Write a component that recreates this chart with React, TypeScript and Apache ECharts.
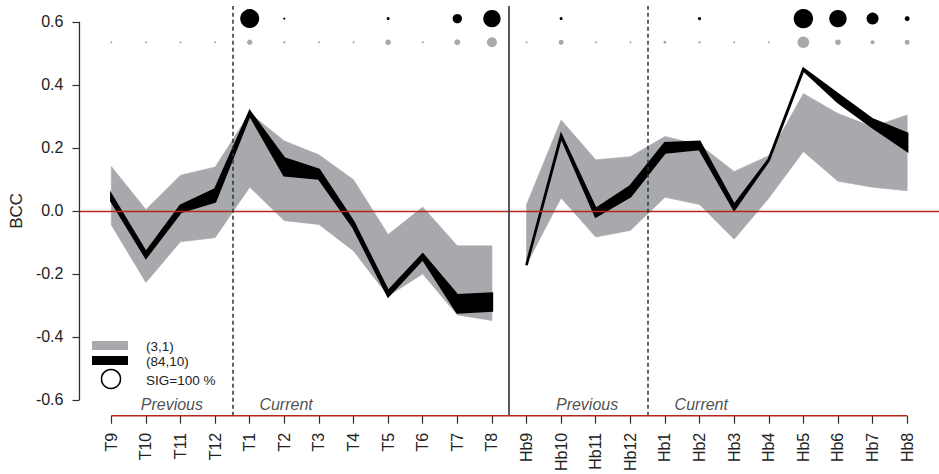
import React, { useEffect, useRef } from 'react';
import * as echarts from 'echarts';

const categories = ['T9', 'T10', 'T11', 'T12', 'T1', 'T2', 'T3', 'T4', 'T5', 'T6', 'T7', 'T8',
  'Hb9', 'Hb10', 'Hb11', 'Hb12', 'Hb1', 'Hb2', 'Hb3', 'Hb4', 'Hb5', 'Hb6', 'Hb7', 'Hb8'];
// two separate panels of the series (Previous/Current for T and Hb)
const segments = [[0, 11], [12, 23]];

// (3,1) band
const grayUpper = [0.141, 0.004, 0.113, 0.139, 0.31, 0.222, 0.178, 0.099, -0.075, 0.012, -0.111, -0.111,
  0.02, 0.288, 0.162, 0.172, 0.236, 0.21, 0.125, 0.175, 0.372, 0.309, 0.267, 0.304];
const grayLower = [-0.045, -0.227, -0.098, -0.085, 0.075, -0.031, -0.043, -0.127, -0.27, -0.2, -0.33, -0.348,
  -0.17, 0.041, -0.083, -0.062, 0.043, 0.02, -0.09, 0.04, 0.188, 0.094, 0.075, 0.064];

// (84,10) band
const blackUpper = [0.05, -0.132, 0.016, 0.068, 0.315, 0.166, 0.13, -0.036, -0.255, -0.138, -0.268, -0.262,
  -0.17, 0.24, 0.006, 0.078, 0.215, 0.219, 0.018, 0.163, 0.451, 0.37, 0.29, 0.245];
const blackLower = [0.032, -0.148, -0.004, 0.03, 0.305, 0.113, 0.103, -0.053, -0.27, -0.152, -0.322, -0.316,
  -0.172, 0.235, -0.018, 0.046, 0.185, 0.196, 0.004, 0.16, 0.447, 0.345, 0.265, 0.191];

// significance (%) shown as circles above the curves
const sigBlack = [0, 0, 0, 0, 95, 10, 0, 0, 15, 0, 47, 87, 0, 15, 0, 0, 0, 16, 0, 0, 97, 87, 60, 25];
const sigGray = [10, 10, 10, 10, 27, 12, 10, 10, 28, 10, 30, 50, 10, 25, 10, 10, 15, 12, 10, 10, 58, 28, 20, 25];
const sigRowLevels = [0.61, 0.535];

const yTicks = [-0.6, -0.4, -0.2, 0, 0.2, 0.4, 0.6];
const dashedDividers = [3.5, 15.5];
const solidDividers = [11.5];
const sectionNames = ['Previous', 'Current', 'Previous', 'Current'];
const sectionAt = [1.75, 5.05, 13.75, 17.05];
const legendNames = ['(3,1)', '(84,10)', 'SIG=100 %'];

const X_MIN = -0.92;
const X_MAX = 23.92;
const Y_MIN = -0.65;
const Y_MAX = 0.65;
const FONT = '"Liberation Sans", Arial, Helvetica, sans-serif';
const GRAY = '#a7a9ac';
const RED = '#b3291c';
const DARK = '#26343a';

function bandSeries(upper: number[], lower: number[], color: string, strokeW: number, z: number) {
  return {
    type: 'custom',
    coordinateSystem: 'cartesian2d',
    z,
    silent: true,
    clip: false,
    data: segments.map((s) => [s[0], 0]),
    renderItem: (params: any, api: any) => {
      const [s, e] = segments[params.dataIndex];
      const pts: number[][] = [];
      for (let i = s; i <= e; i++) pts.push(api.coord([i, upper[i]]));
      for (let i = e; i >= s; i--) pts.push(api.coord([i, lower[i]]));
      return {
        type: 'polygon',
        shape: { points: pts },
        style: {
          fill: color,
          stroke: strokeW > 0 ? color : null,
          lineWidth: strokeW,
          lineJoin: 'miter',
        },
      };
    },
  };
}

export default function App() {
  const ref = useRef<HTMLDivElement>(null);

  useEffect(() => {
    if (!ref.current) return;
    const chart = echarts.init(ref.current, null, { renderer: 'svg' });
    const idx = categories.map((_, i) => i);

    const option: any = {
      animation: false,
      backgroundColor: '#ffffff',
      textStyle: { fontFamily: FONT },
      grid: { left: 77, top: 6, width: 888, height: 412, containLabel: false },
      xAxis: {
        type: 'value',
        min: X_MIN,
        max: X_MAX,
        splitLine: { show: false },
        axisLine: { show: false, onZero: false },
        axisTick: { show: true, customValues: idx, length: 8, lineStyle: { color: DARK, width: 1.2 } },
        axisLabel: {
          show: true,
          customValues: idx,
          formatter: (v: number) => categories[Math.round(v)] ?? '',
          rotate: 90,
          margin: 17,
          fontSize: 16,
          color: '#222',
          fontFamily: FONT,
        },
      },
      yAxis: {
        type: 'value',
        min: Y_MIN,
        max: Y_MAX,
        name: 'BCC',
        nameLocation: 'middle',
        nameGap: 52,
        nameRotate: 90,
        nameTextStyle: { fontSize: 17, color: '#222', fontFamily: FONT },
        splitLine: { show: false },
        axisLine: { show: false, onZero: false },
        axisTick: { show: true, customValues: yTicks, length: 7, lineStyle: { color: DARK, width: 1.2 } },
        axisLabel: {
          show: true,
          customValues: yTicks,
          formatter: (v: number) => v.toFixed(1),
          margin: 16,
          fontSize: 16,
          color: '#222',
          fontFamily: FONT,
        },
      },
      series: [
        bandSeries(grayUpper, grayLower, GRAY, 0.6, 1),
        {
          type: 'line',
          data: [],
          z: 2,
          silent: true,
          markLine: {
            silent: true,
            symbol: 'none',
            label: { show: false },
            data: [
              { yAxis: 0, lineStyle: { color: RED, width: 1.3, type: 'solid' } },
              ...dashedDividers.map((d) => ({ xAxis: d, lineStyle: { color: DARK, width: 1.5, type: [4, 3] } })),
              ...solidDividers.map((d) => ({ xAxis: d, lineStyle: { color: DARK, width: 1.6, type: 'solid' } })),
            ],
          },
        },
        bandSeries(blackUpper, blackLower, '#000000', 2.5, 3),
        {
          type: 'scatter',
          z: 4,
          silent: true,
          data: sigGray.map((s, i) => [i, sigRowLevels[1], s]),
          symbolSize: (v: number[]) => Math.max(2, (v[2] / 100) * 20),
          itemStyle: { color: GRAY, opacity: 1 },
        },
        {
          type: 'scatter',
          z: 4,
          silent: true,
          data: sigBlack.map((s, i) => [i, sigRowLevels[0], s]).filter((d) => d[2] > 0),
          symbolSize: (v: number[]) => Math.max(2, (v[2] / 100) * 20),
          itemStyle: { color: '#000000', opacity: 1 },
        },
        {
          type: 'line',
          z: 5,
          silent: true,
          clip: false,
          symbol: 'none',
          data: [[X_MIN, yTicks[0]], [X_MIN, yTicks[yTicks.length - 1]]],
          lineStyle: { color: DARK, width: 1.3 },
        },
        {
          type: 'line',
          z: 5,
          silent: true,
          clip: false,
          symbol: 'none',
          data: [[idx[0], Y_MIN], [idx[idx.length - 1], Y_MIN]],
          lineStyle: { color: RED, width: 1.3 },
        },
        {
          type: 'scatter',
          z: 5,
          silent: true,
          symbolSize: 0,
          data: sectionNames.map((n, i) => [sectionAt[i], -0.615, n]),
          label: {
            show: true,
            position: 'inside',
            formatter: (p: any) => p.value[2],
            fontSize: 16,
            fontStyle: 'italic',
            color: '#222',
            fontFamily: FONT,
          },
        },
      ],
      graphic: [
        { type: 'rect', shape: { x: 92, y: 341, width: 36, height: 9 }, style: { fill: GRAY } },
        { type: 'rect', shape: { x: 92, y: 356, width: 36, height: 9 }, style: { fill: '#000' } },
        { type: 'circle', shape: { cx: 111, cy: 379, r: 9.5 }, style: { fill: 'none', stroke: '#000', lineWidth: 1.5 } },
        ...legendNames.map((n, i) => ({
          type: 'text',
          x: 146,
          y: [346, 361, 380][i],
          style: { text: n, fontSize: 13.5, fill: '#222', fontFamily: FONT, verticalAlign: 'middle', align: 'left' },
        })),
      ],
    };

    chart.setOption(option);
    return () => chart.dispose();
  }, []);

  return (
    <div
      ref={ref}
      style={{ position: 'fixed', left: 0, top: 0, width: 939, height: 474, background: '#fff' }}
    />
  );
}
